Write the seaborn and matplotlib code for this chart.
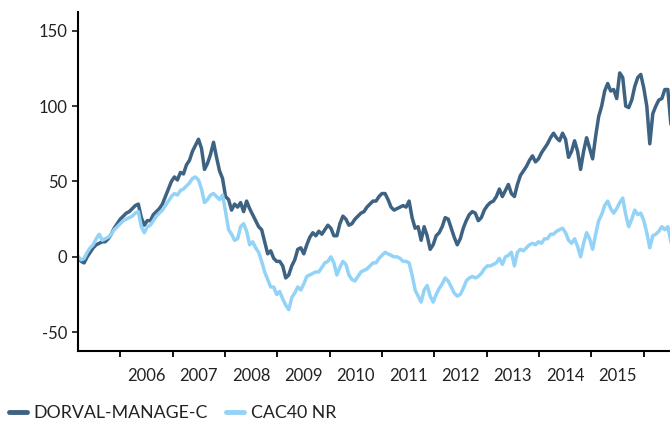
import pandas as pd
import seaborn as sns
import matplotlib.pyplot as plt
import matplotlib.dates as mdates
from matplotlib.ticker import FixedLocator, NullFormatter

# values, one point every 21 days from mid-March 2005
dorval = [
    0, -3, -4, 0, 3, 6, 8, 9, 10, 10, 12, 15, 19, 22, 25, 27, 29, 30, 32, 34,
    35, 26, 21, 24, 24, 28, 30, 32, 35, 40, 45, 50, 53, 51, 56, 55, 61, 64, 70, 74,
    78, 72, 58, 62, 68, 76, 66, 57, 52, 40, 38, 31, 35, 33, 36, 30, 37, 32, 28, 24,
    20, 18, 10, 2, 4, -1, -3, -3, -6, -14, -12, -6, -2, 5, 6, 2, 8, 13, 16, 14,
    17, 15, 18, 21, 19, 14, 14, 22, 27, 25, 21, 22, 25, 27, 29, 30, 33, 35, 37, 37,
    40, 42, 42, 38, 33, 31, 32, 33, 34, 33, 37, 26, 19, 20, 11, 20, 14, 5, 8, 14,
    16, 20, 26, 25, 19, 13, 8, 12, 19, 24, 28, 30, 29, 24, 26, 31, 34, 36, 37, 40,
    45, 40, 44, 48, 42, 40, 48, 54, 57, 60, 64, 67, 63, 65, 69, 72, 75, 79, 82, 79,
    77, 82, 78, 66, 70, 77, 70, 58, 70, 79, 72, 65, 80, 93, 100, 110, 115, 110, 111, 105,
    122, 119, 100, 99, 104, 113, 119, 121, 112, 100, 75, 95, 100, 104, 105, 111, 111, 88,
]
cac40 = [
    0, -2, -1, 3, 6, 8, 12, 15, 11, 12, 13, 15, 18, 20, 22, 24, 25, 26, 27, 29,
    30, 20, 16, 20, 21, 24, 27, 29, 31, 34, 37, 40, 42, 41, 44, 45, 47, 49, 52, 53,
    51, 45, 36, 38, 41, 42, 40, 38, 41, 30, 18, 15, 11, 12, 20, 22, 17, 8, 10, 6,
    3, -3, -10, -15, -20, -20, -25, -23, -28, -32, -35, -27, -24, -20, -22, -18, -13, -12, -11, -10,
    -10, -7, -4, -3, 0, -4, -12, -7, -3, -5, -12, -15, -16, -13, -10, -9, -8, -6, -4, -4,
    -1, 1, 3, 2, 1, 0, 0, -1, -3, -3, -4, -12, -22, -26, -30, -22, -19, -26, -30, -25,
    -21, -18, -14, -16, -20, -24, -26, -25, -21, -16, -14, -13, -14, -13, -11, -8, -6, -6, -5, -4,
    -1, -5, 0, 1, 3, -6, 3, 5, 4, 6, 8, 9, 8, 10, 9, 12, 12, 15, 15, 17,
    18, 19, 16, 11, 9, 12, 7, 0, 9, 16, 12, 5, 15, 24, 28, 34, 37, 32, 29, 32,
    36, 39, 28, 20, 25, 31, 28, 29, 24, 16, 6, 14, 15, 17, 20, 18, 20, 10,
]
series_names = ["DORVAL-MANAGE-C", "CAC40 NR"]
year_labels = [2006, 2007, 2008, 2009, 2010, 2011, 2012, 2013, 2014, 2015]
colors = ["#3e6282", "#93d3f7"]

dates = pd.date_range("2005-03-12", periods=len(dorval), freq="21D")
df = pd.concat([
    pd.DataFrame({"date": dates, "value": dorval, "series": series_names[0]}),
    pd.DataFrame({"date": dates, "value": cac40, "series": series_names[1]}),
])

sns.set_style("ticks")
plt.rcParams["font.family"] = ["Lato", "DejaVu Sans"]
plt.rcParams["axes.unicode_minus"] = False

fig = plt.figure(figsize=(6.7, 4.24), dpi=100)
ax = fig.add_axes([0.1164, 0.172, 0.8836, 0.8])

sns.lineplot(ax=ax, data=df, x="date", y="value", hue="series",
             hue_order=series_names, palette=colors,
             linewidth=2.5, legend=False)

ax.set_xlim(pd.Timestamp("2005-03-11"), pd.Timestamp("2016-07-03"))
ax.set_ylim(-62.5, 162.5)
ax.set_yticks([-50, 0, 50, 100, 150])
ax.set_xlabel("")
ax.set_ylabel("")

# year boundaries get tick marks, labels sit mid-year
ax.xaxis.set_major_locator(mdates.YearLocator())
ax.xaxis.set_major_formatter(NullFormatter())
mids = [mdates.date2num(pd.Timestamp(f"{y}-07-01")) for y in year_labels]
ax.xaxis.set_minor_locator(FixedLocator(mids))
ax.xaxis.set_minor_formatter(plt.FixedFormatter([str(y) for y in year_labels]))
ax.tick_params(axis="x", which="minor", length=0, labelsize=12, pad=12, colors="#222222")
ax.tick_params(axis="x", which="major", length=4, width=1.3, color="black")
ax.tick_params(axis="y", length=4, width=1.3, labelsize=12, labelcolor="#222222")

sns.despine(ax=ax)
for side in ["left", "bottom"]:
    ax.spines[side].set_linewidth(1.5)
    ax.spines[side].set_color("black")

handles = [plt.Line2D([], [], color=c, linewidth=3.5) for c in colors]
fig.legend(handles, series_names, loc="center left", bbox_to_anchor=(0.0, 0.026),
           ncol=2, frameon=False, fontsize=12.8, handlelength=1.0, handletextpad=0.4,
           columnspacing=1.0, borderpad=0, labelcolor="#222222")

fig.savefig("out.png", dpi=100)
